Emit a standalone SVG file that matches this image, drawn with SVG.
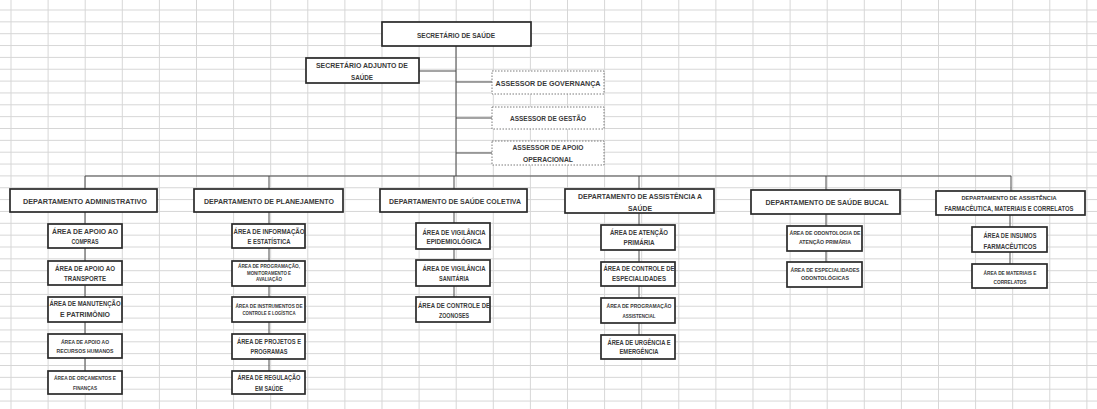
<svg xmlns="http://www.w3.org/2000/svg" width="1097" height="409" viewBox="0 0 1097 409">
<defs>
<pattern id="grid" patternUnits="userSpaceOnUse" x="10.5" y="9.5" width="37.1" height="11.85">
<path d="M0 0.5 H37.1 M0.5 0 V11.85" stroke="#d6d6d6" stroke-width="1" fill="none"/>
</pattern>
<style>
.box{fill:#fff;stroke:#2a2a2a;stroke-width:1.7}
.dash{fill:#fff;stroke:#7a7a7a;stroke-width:1;stroke-dasharray:1.5 1.5}
.ln{stroke:#4a4a4a;stroke-width:1;fill:none}
text{font-family:"Liberation Sans",Arial,sans-serif;fill:#3a3a3a;text-anchor:middle;font-weight:bold}
.f7{font-size:7px}
.f6{font-size:6.5px}
.f5{font-size:5px}
</style>
</defs>
<rect width="1097" height="409" fill="#fff"/>
<rect width="1097" height="409" fill="url(#grid)"/>

<g id="connectors">
<path class="ln" d="M456 46 V176 M419 71 H456 M456 82 H492 M456 118 H492 M456 153 H492"/>
<path class="ln" d="M85 176 H1011 M85 176 V189 M269 176 V189 M454 176 V189 M639 176 V189 M826 176 V190 M1011 176 V191"/>
<path class="ln" d="M85 212 V371 M269 212 V371 M454 212 V297 M639 213 V335 M826 214 V262 M1010 215 V264"/>
</g>

<g id="secretario">
<rect class="box" x="382" y="22" width="149" height="24"/>
<text class="f7" x="456" y="37.5" textLength="78" lengthAdjust="spacingAndGlyphs">SECRETÁRIO DE SAÚDE</text>
</g>
<g id="adjunto">
<rect class="box" x="306" y="58" width="113" height="25"/>
<text class="f7" x="362" y="67.5" textLength="92" lengthAdjust="spacingAndGlyphs">SECRETÁRIO ADJUNTO DE</text>
<text class="f7" x="362" y="79.5" textLength="22" lengthAdjust="spacingAndGlyphs">SAÚDE</text>
</g>
<g id="assessor-governanca">
<rect class="dash" x="492" y="71" width="112" height="23"/>
<text class="f7" x="548" y="85.5" textLength="105" lengthAdjust="spacingAndGlyphs">ASSESSOR DE GOVERNANÇA</text>
</g>
<g id="assessor-gestao">
<rect class="dash" x="492" y="107" width="112" height="22"/>
<text class="f7" x="548" y="120.5" textLength="76" lengthAdjust="spacingAndGlyphs">ASSESSOR DE GESTÃO</text>
</g>
<g id="assessor-apoio">
<rect class="dash" x="492" y="141" width="112" height="24"/>
<text class="f7" x="548" y="149.5" textLength="71" lengthAdjust="spacingAndGlyphs">ASSESSOR DE APOIO</text>
<text class="f7" x="548" y="161.5" textLength="50" lengthAdjust="spacingAndGlyphs">OPERACIONAL</text>
</g>

<g id="dep-administrativo">
<rect class="box" x="10" y="189" width="147" height="23"/>
<text class="f7" x="85" y="203.5" textLength="124" lengthAdjust="spacingAndGlyphs">DEPARTAMENTO ADMINISTRATIVO</text>
</g>
<g id="dep-planejamento">
<rect class="box" x="194" y="189" width="149" height="23"/>
<text class="f7" x="269" y="203.5" textLength="130" lengthAdjust="spacingAndGlyphs">DEPARTAMENTO DE PLANEJAMENTO</text>
</g>
<g id="dep-saude-coletiva">
<rect class="box" x="380" y="189" width="147" height="23"/>
<text class="f7" x="455" y="203.5" textLength="132" lengthAdjust="spacingAndGlyphs">DEPARTAMENTO DE SAÚDE COLETIVA</text>
</g>
<g id="dep-assistencia">
<rect class="box" x="565" y="189" width="149" height="24"/>
<text class="f7" x="640" y="198.5" textLength="124" lengthAdjust="spacingAndGlyphs">DEPARTAMENTO DE ASSISTÊNCIA A</text>
<text class="f7" x="640" y="210.5" textLength="24" lengthAdjust="spacingAndGlyphs">SAÚDE</text>
</g>
<g id="dep-saude-bucal">
<rect class="box" x="751" y="190" width="149" height="24"/>
<text class="f7" x="827" y="205" textLength="123" lengthAdjust="spacingAndGlyphs">DEPARTAMENTO DE SAÚDE BUCAL</text>
</g>
<g id="dep-farmaceutica">
<rect class="box" x="936" y="191" width="149" height="24"/>
<text class="f5" x="1009" y="200" textLength="95" lengthAdjust="spacingAndGlyphs">DEPARTAMENTO DE ASSISTÊNCIA</text>
<text class="f6" x="1009" y="211.3" textLength="129" lengthAdjust="spacingAndGlyphs">FARMACÊUTICA, MATERIAIS E CORRELATOS</text>
</g>

<g id="area-compras">
<rect class="box" x="48" y="224" width="74" height="24"/>
<text class="f6" x="85" y="234.3" textLength="66" lengthAdjust="spacingAndGlyphs">ÁREA DE APOIO AO</text>
<text class="f6" x="85" y="244.3" textLength="27" lengthAdjust="spacingAndGlyphs">COMPRAS</text>
</g>
<g id="area-transporte">
<rect class="box" x="48" y="261" width="74" height="24"/>
<text class="f6" x="85" y="271.3" textLength="60" lengthAdjust="spacingAndGlyphs">ÁREA DE APOIO AO</text>
<text class="f6" x="85" y="281.3" textLength="42" lengthAdjust="spacingAndGlyphs">TRANSPORTE</text>
</g>
<g id="area-manutencao">
<rect class="box" x="48" y="297" width="74" height="25"/>
<text class="f6" x="85" y="306.3" textLength="71" lengthAdjust="spacingAndGlyphs">ÁREA DE MANUTENÇÃO</text>
<text class="f6" x="85" y="317.3" textLength="50" lengthAdjust="spacingAndGlyphs">E PATRIMÔNIO</text>
</g>
<g id="area-rh">
<rect class="box" x="48" y="334" width="74" height="24"/>
<text class="f5" x="85" y="343.8" textLength="48" lengthAdjust="spacingAndGlyphs">ÁREA DE APOIO AO</text>
<text class="f5" x="85" y="352.8" textLength="57" lengthAdjust="spacingAndGlyphs">RECURSOS HUMANOS</text>
</g>
<g id="area-orcamentos">
<rect class="box" x="48" y="371" width="74" height="23"/>
<text class="f5" x="85" y="379.8" textLength="62" lengthAdjust="spacingAndGlyphs">ÁREA DE ORÇAMENTOS E</text>
<text class="f5" x="85" y="389.8" textLength="24" lengthAdjust="spacingAndGlyphs">FINANÇAS</text>
</g>

<g id="area-informacao">
<rect class="box" x="232" y="224" width="73" height="24"/>
<text class="f6" x="269" y="234.3" textLength="71" lengthAdjust="spacingAndGlyphs">ÁREA DE INFORMAÇÃO</text>
<text class="f6" x="269" y="244.3" textLength="43" lengthAdjust="spacingAndGlyphs">E ESTATÍSTICA</text>
</g>
<g id="area-programacao">
<rect class="box" x="232" y="261" width="73" height="25"/>
<text class="f5" x="269" y="267.8" textLength="62" lengthAdjust="spacingAndGlyphs">ÁREA DE PROGRAMAÇÃO,</text>
<text class="f5" x="269" y="274.8" textLength="44" lengthAdjust="spacingAndGlyphs">MONITORAMENTO E</text>
<text class="f5" x="269" y="280.8" textLength="26" lengthAdjust="spacingAndGlyphs">AVALIAÇÃO</text>
</g>
<g id="area-instrumentos">
<rect class="box" x="232" y="297" width="73" height="25"/>
<text class="f5" x="269" y="308.3" textLength="67" lengthAdjust="spacingAndGlyphs">ÁREA DE INSTRUMENTOS DE</text>
<text class="f5" x="269" y="314.8" textLength="53" lengthAdjust="spacingAndGlyphs">CONTROLE E LOGÍSTICA</text>
</g>
<g id="area-projetos">
<rect class="box" x="232" y="334" width="73" height="25"/>
<text class="f6" x="269" y="344.3" textLength="64" lengthAdjust="spacingAndGlyphs">ÁREA DE PROJETOS E</text>
<text class="f6" x="269" y="354.3" textLength="37" lengthAdjust="spacingAndGlyphs">PROGRAMAS</text>
</g>
<g id="area-regulacao">
<rect class="box" x="232" y="371" width="73" height="23"/>
<text class="f6" x="269" y="380.3" textLength="63" lengthAdjust="spacingAndGlyphs">ÁREA DE REGULAÇÃO</text>
<text class="f6" x="269" y="391.3" textLength="28" lengthAdjust="spacingAndGlyphs">EM SAÚDE</text>
</g>

<g id="area-vig-epidemiologica">
<rect class="box" x="416" y="223" width="74" height="26"/>
<text class="f6" x="454" y="235.3" textLength="63" lengthAdjust="spacingAndGlyphs">ÁREA DE VIGILÂNCIA</text>
<text class="f6" x="454" y="244.3" textLength="55" lengthAdjust="spacingAndGlyphs">EPIDEMIOLÓGICA</text>
</g>
<g id="area-vig-sanitaria">
<rect class="box" x="416" y="260" width="74" height="26"/>
<text class="f6" x="454" y="271.3" textLength="63" lengthAdjust="spacingAndGlyphs">ÁREA DE VIGILÂNCIA</text>
<text class="f6" x="454" y="281.3" textLength="30" lengthAdjust="spacingAndGlyphs">SANITÁRIA</text>
</g>
<g id="area-zoonoses">
<rect class="box" x="416" y="297" width="74" height="25"/>
<text class="f6" x="454" y="308.3" textLength="72" lengthAdjust="spacingAndGlyphs">ÁREA DE CONTROLE DE</text>
<text class="f6" x="454" y="318.3" textLength="30" lengthAdjust="spacingAndGlyphs">ZOONOSES</text>
</g>

<g id="area-atencao-primaria">
<rect class="box" x="601" y="225" width="74" height="25"/>
<text class="f6" x="639" y="235.3" textLength="58" lengthAdjust="spacingAndGlyphs">ÁREA DE ATENÇÃO</text>
<text class="f6" x="639" y="245.3" textLength="31" lengthAdjust="spacingAndGlyphs">PRIMÁRIA</text>
</g>
<g id="area-controle-especialidades">
<rect class="box" x="601" y="262" width="74" height="24"/>
<text class="f6" x="639" y="271.3" textLength="71" lengthAdjust="spacingAndGlyphs">ÁREA DE CONTROLE DE</text>
<text class="f6" x="639" y="281.3" textLength="54" lengthAdjust="spacingAndGlyphs">ESPECIALIDADES</text>
</g>
<g id="area-programacao-assistencial">
<rect class="box" x="601" y="298" width="74" height="25"/>
<text class="f5" x="639" y="307.8" textLength="65" lengthAdjust="spacingAndGlyphs">ÁREA DE PROGRAMAÇÃO</text>
<text class="f5" x="639" y="317.8" textLength="33" lengthAdjust="spacingAndGlyphs">ASSISTENCIAL</text>
</g>
<g id="area-urgencia">
<rect class="box" x="601" y="335" width="74" height="24"/>
<text class="f6" x="639" y="345.3" textLength="63" lengthAdjust="spacingAndGlyphs">ÁREA DE URGÊNCIA E</text>
<text class="f6" x="639" y="354.3" textLength="39" lengthAdjust="spacingAndGlyphs">EMERGÊNCIA</text>
</g>

<g id="area-odonto-primaria">
<rect class="box" x="787" y="226" width="75" height="25"/>
<text class="f5" x="825" y="234.8" textLength="71" lengthAdjust="spacingAndGlyphs">ÁREA DE ODONTOLOGIA DE</text>
<text class="f5" x="825" y="243.8" textLength="52" lengthAdjust="spacingAndGlyphs">ATENÇÃO PRIMÁRIA</text>
</g>
<g id="area-odonto-especialidades">
<rect class="box" x="787" y="262" width="75" height="25"/>
<text class="f5" x="825" y="271.8" textLength="69" lengthAdjust="spacingAndGlyphs">ÁREA DE ESPECIALIDADES</text>
<text class="f5" x="825" y="279.8" textLength="48" lengthAdjust="spacingAndGlyphs">ODONTOLÓGICAS</text>
</g>

<g id="area-insumos">
<rect class="box" x="972" y="227" width="75" height="25"/>
<text class="f6" x="1010" y="238.3" textLength="53" lengthAdjust="spacingAndGlyphs">ÁREA DE INSUMOS</text>
<text class="f6" x="1010" y="249.3" textLength="53" lengthAdjust="spacingAndGlyphs">FARMACÊUTICOS</text>
</g>
<g id="area-materiais">
<rect class="box" x="972" y="264" width="75" height="24"/>
<text class="f5" x="1010" y="274.8" textLength="53" lengthAdjust="spacingAndGlyphs">ÁREA DE MATERIAIS E</text>
<text class="f5" x="1010" y="283.8" textLength="33" lengthAdjust="spacingAndGlyphs">CORRELATOS</text>
</g>
</svg>
